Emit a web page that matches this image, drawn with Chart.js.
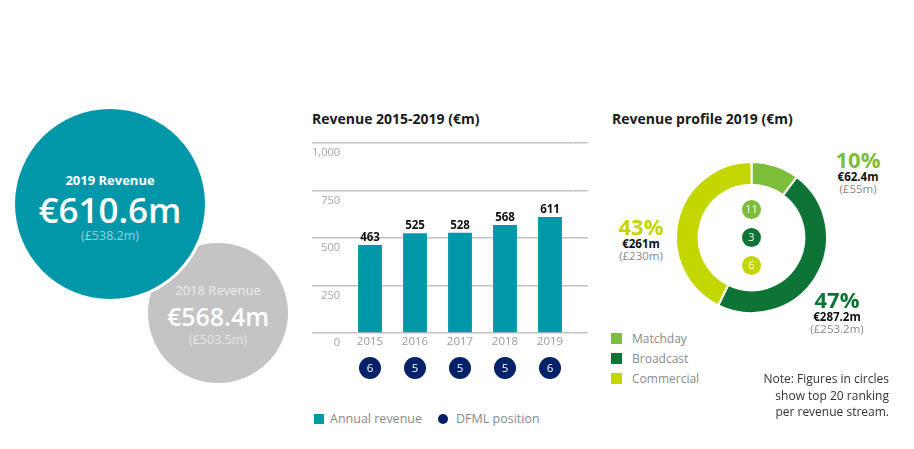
<!DOCTYPE html>
<html>
<head>
<meta charset="utf-8">
<script src="https://cdn.jsdelivr.net/npm/chart.js@4.4.1/dist/chart.umd.min.js"></script>
<style>
  body { margin: 0; background: #fff; font-family: 'Open Sans', sans-serif; }
  #page { position: relative; width: 914px; height: 449px; overflow: hidden; }
  .abs { position: absolute; white-space: nowrap; }
  .circle { position: absolute; border-radius: 50%; text-align: center; }
  .circle div { position: absolute; left: 0; right: 0; }
  #big { left: 15px; top: 109px; width: 190px; height: 190px; background: #0097a9; box-shadow: 0 0 0 3px #fff; z-index: 2; }
  #small { left: 148px; top: 243px; width: 140px; height: 140px; background: #c4c4c4; z-index: 1; }
  .title { font-size: 14px; font-weight: 700; line-height: 16px; color: #1a1a1a; top: 111px; }
  .legend { font-size: 12.5px; color: #8a8a8a; line-height: 16px; }
  .swatch { position: absolute; width: 10px; height: 10px; }
  .pct { position: absolute; text-align: center; transform: translateX(-50%); white-space: nowrap; }
  .pct .p { font-size: 22px; font-weight: 700; line-height: 23px; }
  .pct .e { font-size: 11.5px; font-weight: 700; line-height: 12px; color: #111; }
  .pct .g { font-size: 11.5px; line-height: 12px; color: #888; }
  #note { right: 25px; top: 371px; text-align: right; font-size: 12px; line-height: 16.5px; color: #333; }
</style>
</head>
<body>
<div id="page">
  <!-- bulles chiffre d'affaires -->
  <div id="big" class="circle">
    <div style="top:63px;font-size:13px;font-weight:700;line-height:16px;color:#fff">2019 Revenue</div>
    <div style="top:81px;font-size:35px;font-weight:600;line-height:40px;color:#fff">€610.6m</div>
    <div style="top:119px;font-size:12.5px;line-height:16px;color:#8fd3dc">(£538.2m)</div>
  </div>
  <div id="small" class="circle">
    <div style="top:39px;font-size:13px;line-height:16px;color:#ececec">2018 Revenue</div>
    <div style="top:58px;font-size:25px;font-weight:600;line-height:30px;color:#fff">€568.4m</div>
    <div style="top:89px;font-size:12.5px;line-height:16px;color:#e6e6e6">(£503.5m)</div>
  </div>

  <div class="abs title" style="left:312px">Revenue 2015-2019 (€m)</div>
  <div class="abs title" style="left:612px">Revenue profile 2019 (€m)</div>

  <div class="abs" style="left:300px;top:133px;width:288px;height:260px">
    <canvas id="barChart"></canvas>
  </div>
  <div class="abs" style="left:675px;top:161px;width:153px;height:153px">
    <canvas id="profileChart"></canvas>
  </div>

  <!-- légende barres -->
  <div class="swatch" style="left:314px;top:414px;background:#0097a9"></div>
  <div class="abs legend" style="left:330px;top:411px">Annual revenue</div>
  <div class="swatch" style="left:438px;top:414px;background:#012169;border-radius:50%"></div>
  <div class="abs legend" style="left:456px;top:411px">DFML position</div>

  <div id="profileLegend"></div>
  <div id="profileLabels"></div>

  <div id="note" class="abs">Note: Figures in circles<br>show top 20 ranking<br>per revenue stream.</div>
</div>

<script>
// Données
const years = ['2015', '2016', '2017', '2018', '2019'];
const revenue = [463, 525, 528, 568, 611];
const dfmlPosition = [6, 5, 5, 5, 6];
const yTicks = [0, 250, 500, 750, 1000];

const streams = ['Matchday', 'Broadcast', 'Commercial'];
const streamEur = [62.4, 287.2, 261];
const streamGbp = ['55', '253.2', '230'];
const streamShare = [10, 47, 43];
const streamRank = [11, 3, 6];

const teal = '#0097a9';
const navy = '#012169';
const streamColors = ['#7cbd3a', '#0d7436', '#c4d600'];

document.addEventListener('DOMContentLoaded', function() {

    // valeurs au-dessus des barres + cercles de position DFML
    const barExtras = {
        id: 'barExtras',
        afterDatasetsDraw(chart) {
            const ctx = chart.ctx;
            const meta = chart.getDatasetMeta(0);
            ctx.save();
            ctx.textAlign = 'center';
            meta.data.forEach((bar, i) => {
                ctx.font = 'bold 11.5px "Open Sans"';
                ctx.fillStyle = '#111';
                ctx.textBaseline = 'alphabetic';
                ctx.fillText(revenue[i], bar.x, bar.y - 4);

                const cy = chart.chartArea.bottom + 35;
                ctx.beginPath();
                ctx.arc(bar.x, cy, 11, 0, Math.PI * 2);
                ctx.fillStyle = navy;
                ctx.fill();
                ctx.fillStyle = '#fff';
                ctx.font = '11.5px "Open Sans"';
                ctx.textBaseline = 'middle';
                ctx.fillText(dfmlPosition[i], bar.x, cy + 1);
            });
            ctx.restore();
        }
    };

    new Chart(document.getElementById('barChart'), {
        type: 'bar',
        data: {
            labels: years,
            datasets: [{
                label: 'Annual revenue',
                data: revenue,
                backgroundColor: teal,
                barPercentage: 0.53,
                categoryPercentage: 1
            }]
        },
        options: {
            responsive: true,
            maintainAspectRatio: false,
            animation: false,
            layout: { padding: { top: 10, bottom: 40 } },
            plugins: { legend: { display: false }, tooltip: { enabled: false } },
            scales: {
                x: {
                    grid: { display: false, drawTicks: false },
                    border: { display: false },
                    ticks: { color: '#9a9a9a', font: { family: 'Open Sans', size: 11.5 }, padding: 2 },
                    afterFit: s => { s.height = 20; }
                },
                y: {
                    min: 0, max: 1000,
                    afterBuildTicks: s => { s.ticks = yTicks.map(v => ({ value: v })); },
                    grid: { color: '#c2c2c2', lineWidth: 1.5, tickLength: 35.5 },
                    border: { display: false },
                    ticks: {
                        color: '#a5a5a5',
                        font: { family: 'Open Sans', size: 11 },
                        padding: -28,
                        labelOffset: 10,
                        callback: v => v.toLocaleString('en-US')
                    },
                    afterFit: s => { s.width = 47.5; }
                },
                // prolonge les lignes de grille à droite
                y2: {
                    position: 'right',
                    min: 0, max: 1000,
                    afterBuildTicks: s => { s.ticks = yTicks.map(v => ({ value: v })); },
                    grid: { color: '#c2c2c2', lineWidth: 1.5, tickLength: 15.5, drawOnChartArea: false },
                    border: { display: false },
                    ticks: { display: false },
                    afterFit: s => { s.width = 15.5; }
                }
            }
        },
        plugins: [barExtras]
    });

    // classements au centre de l'anneau
    const centerRanks = {
        id: 'centerRanks',
        afterDraw(chart) {
            const ctx = chart.ctx;
            const area = chart.chartArea;
            const cx = (area.left + area.right) / 2;
            const cy = (area.top + area.bottom) / 2;
            ctx.save();
            ctx.textAlign = 'center';
            ctx.textBaseline = 'middle';
            ctx.font = '11px "Open Sans"';
            streamRank.forEach((r, i) => {
                const y = cy + (i - 1) * 28;
                ctx.beginPath();
                ctx.arc(cx, y, 9.5, 0, Math.PI * 2);
                ctx.fillStyle = streamColors[i];
                ctx.fill();
                ctx.fillStyle = '#fff';
                ctx.fillText(r, cx, y + 0.5);
            });
            ctx.restore();
        }
    };

    new Chart(document.getElementById('profileChart'), {
        type: 'doughnut',
        data: {
            labels: streams,
            datasets: [{
                data: streamEur,
                backgroundColor: streamColors,
                borderColor: '#fff',
                borderWidth: 2
            }]
        },
        options: {
            responsive: true,
            maintainAspectRatio: false,
            animation: false,
            cutout: '70%',
            plugins: { legend: { display: false }, tooltip: { enabled: false } }
        },
        plugins: [centerRanks]
    });

    // légende et étiquettes du profil
    const legendTops = [333, 353, 373];
    const legendHtml = streams.map((s, i) =>
        '<div class="swatch" style="left:611px;top:' + legendTops[i] + 'px;width:11px;height:11px;background:' + streamColors[i] + '"></div>' +
        '<div class="abs legend" style="left:632px;top:' + (legendTops[i] - 2) + 'px;font-size:12px">' + s + '</div>'
    ).join('');
    document.getElementById('profileLegend').innerHTML = legendHtml;

    const labelSpots = [{ x: 858, y: 148 }, { x: 837, y: 288 }, { x: 641, y: 215 }];
    document.getElementById('profileLabels').innerHTML = streams.map((s, i) =>
        '<div class="pct" style="left:' + labelSpots[i].x + 'px;top:' + labelSpots[i].y + 'px">' +
        '<div class="p" style="color:' + streamColors[i] + '">' + streamShare[i] + '%</div>' +
        '<div class="e">€' + streamEur[i] + 'm</div>' +
        '<div class="g">(£' + streamGbp[i] + 'm)</div></div>'
    ).join('');
});
</script>
</body>
</html>
